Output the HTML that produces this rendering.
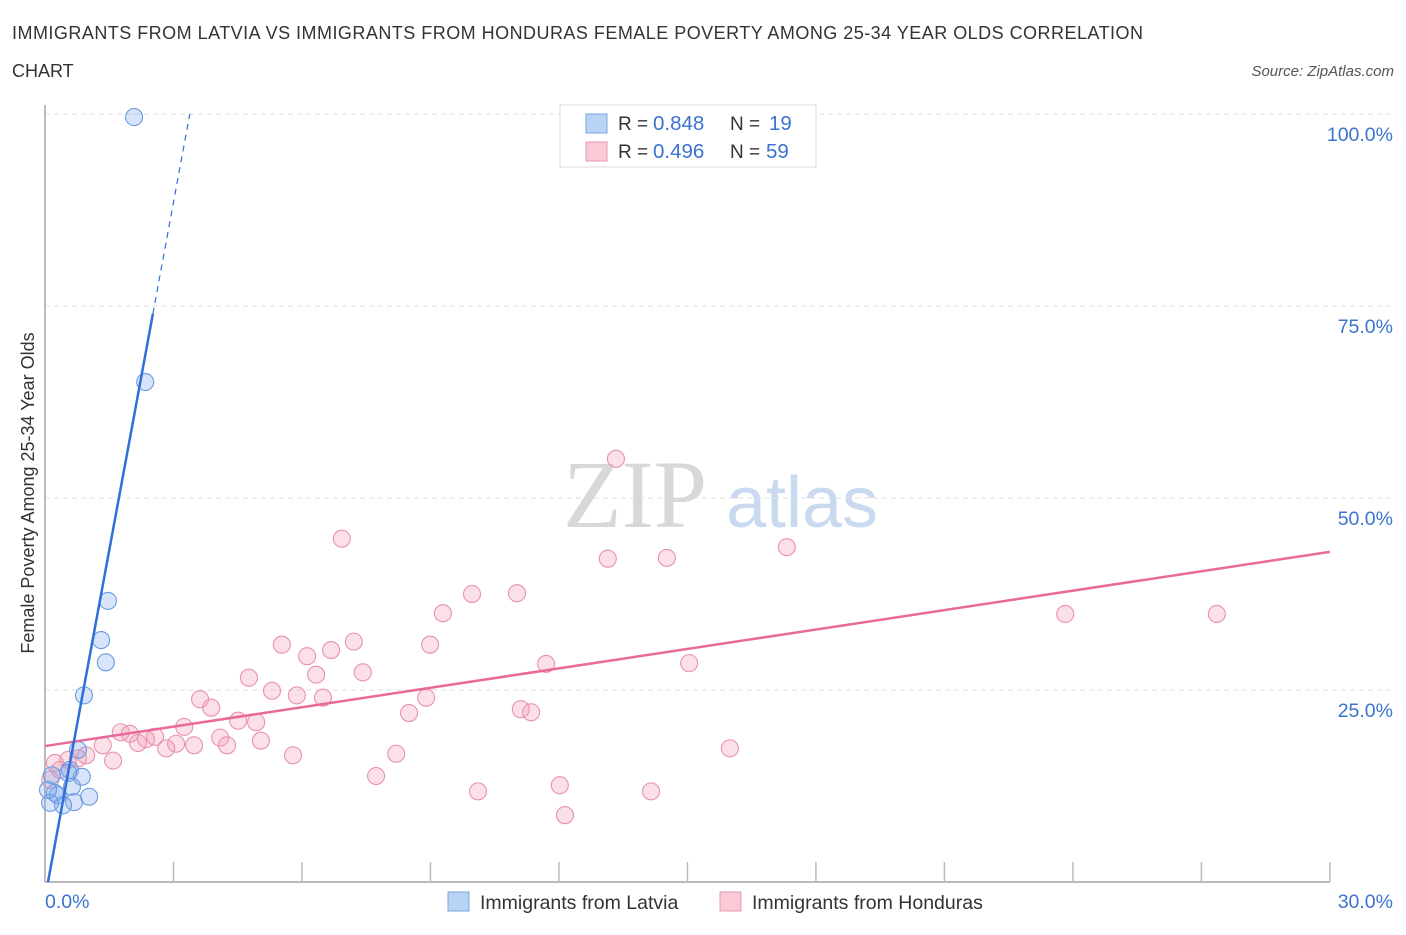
<!DOCTYPE html>
<html><head><meta charset="utf-8"><style>
body{margin:0;background:#fff;font-family:"Liberation Sans",sans-serif}
</style></head><body>
<svg width="1406" height="930" id="chart" font-family="Liberation Sans, sans-serif">
<text x="12" y="39" font-size="18" fill="#333" textLength="1131">IMMIGRANTS FROM LATVIA VS IMMIGRANTS FROM HONDURAS FEMALE POVERTY AMONG 25-34 YEAR OLDS CORRELATION</text>
<text x="12" y="77" font-size="18" fill="#333">CHART</text>
<text x="1394" y="76" font-size="15" fill="#555" font-style="italic" text-anchor="end">Source: ZipAtlas.com</text>
<g>
<text x="635" y="527" font-size="96" fill="#d8d8d8" style="font-family:'Liberation Serif',serif" text-anchor="middle">ZIP</text>
<text x="802" y="527" font-size="72" fill="#c9daf0" text-anchor="middle">atlas</text>
</g>
<g id="grid"></g>
<g id="axes"></g>
<g id="pts"></g>
<g id="trend"></g>
<g>
<rect x="560" y="105" width="256" height="62" fill="#fff" stroke="#ddd"/>
<rect x="586" y="114" width="21" height="19" fill="#b9d3f5" stroke="#7aa6e0"/>
<rect x="586" y="142" width="21" height="19" fill="#f9c9d6" stroke="#e897b0"/>
<text x="618" y="130" font-size="19" fill="#333">R = </text><text x="653" y="130" font-size="20.5" fill="#3a73d0">0.848</text>
<text x="730" y="130" font-size="19" fill="#333">N = </text><text x="769" y="130" font-size="20.5" fill="#3a73d0">19</text>
<text x="618" y="158" font-size="19" fill="#333">R = </text><text x="653" y="158" font-size="20.5" fill="#3a73d0">0.496</text>
<text x="730" y="158" font-size="19" fill="#333">N = </text><text x="766" y="158" font-size="20.5" fill="#3a73d0">59</text>
</g>
<g>
<rect x="448" y="892" width="21" height="19" fill="#b9d3f5" stroke="#7aa6e0"/>
<text x="480" y="909" font-size="19.5" fill="#333">Immigrants from Latvia</text>
<rect x="720" y="892" width="21" height="19" fill="#f9c9d6" stroke="#e897b0"/>
<text x="752" y="909" font-size="19.5" fill="#333">Immigrants from Honduras</text>
</g>
<text x="34" y="493" font-size="18" fill="#333" text-anchor="middle" transform="rotate(-90 34 493)">Female Poverty Among 25-34 Year Olds</text>
</svg>
<script>
const latviaX=[2.08,2.34,1.47,1.31,1.42,0.91,0.77,0.58,0.86,0.63,0.23,0.30,1.03,0.68,0.42,0.12,0.07,0.54,0.16];
const latviaY=[99.6,65.1,36.6,31.5,28.6,24.3,17.2,14.6,13.7,12.4,11.6,11.3,11.1,10.4,10.0,10.3,12.0,14.2,13.9];
const hondurasX=[13.33,6.93,13.14,14.52,17.32,9.97,11.02,9.29,23.82,27.36,5.53,7.21,8.99,6.12,6.68,7.42,6.33,4.76,11.70,15.04,5.30,5.88,6.49,8.90,3.62,3.88,11.11,11.35,8.50,4.51,4.93,3.25,1.77,1.98,2.36,2.57,3.06,3.48,4.09,4.25,2.83,2.17,5.04,1.35,0.96,0.77,1.59,5.79,8.20,15.99,7.73,12.02,10.11,14.15,12.14,0.23,0.54,0.35,0.12];
const hondurasY=[55.1,44.7,42.1,42.2,43.6,37.5,37.6,35.0,34.9,34.9,30.9,31.3,30.9,29.4,30.2,27.3,27.0,26.6,28.4,28.5,24.9,24.3,24.0,24.0,23.8,22.7,22.5,22.1,22.0,21.0,20.8,20.2,19.5,19.3,18.6,18.9,18.0,17.8,18.8,17.8,17.4,18.1,18.4,17.8,16.5,16.1,15.8,16.5,16.7,17.4,13.8,12.6,11.8,11.8,8.7,15.5,15.9,14.6,13.3];
const yTicks=[25,50,75,100];
const yTickLabels=["25.0%","50.0%","75.0%","100.0%"];
const xTicks=[0,3,6,9,12,15,18,21,24,27,30];
const xTickLabels=["0.0%","30.0%"];
const latviaTrend=[-2.1,30.2];
const hondurasTrend=[17.7,0.843];

const NS="http://www.w3.org/2000/svg";
const sx=v=>45+v*42.83, sy=v=>882-v*7.68;
function mk(p,t,a){const e=document.createElementNS(NS,t);for(const k in a)e.setAttribute(k,a[k]);document.getElementById(p).appendChild(e);return e;}
yTicks.forEach((t,i)=>{
 const g=mk('grid','line',{x1:45,x2:1395,y1:sy(t),y2:sy(t),stroke:'#ddd','stroke-dasharray':'5,4'});
 
 
 const l=mk('grid','text',{x:1393,y:sy(t)+27,'font-size':19.5,fill:'#3a73d0','text-anchor':'end'});
 l.textContent=yTickLabels[i];
 
 
});
const ax=mk('axes','line',{x1:45,x2:1330,y1:882,y2:882,stroke:'#bbb','stroke-width':2});


const ay=mk('axes','line',{x1:45,x2:45,y1:105,y2:882,stroke:'#bbb','stroke-width':2});


xTicks.forEach((t,i)=>{if(i==0)return;
 const tk=mk('axes','line',{x1:sx(t),x2:sx(t),y1:862,y2:882,stroke:'#bbb','stroke-width':1.5});
 
 
});
[[0,'start'],[30,'end']].forEach((d,i)=>{
 const l=mk('axes','text',{x:i?1393:45,y:908,'font-size':19.5,fill:'#3a73d0','text-anchor':d[1]});
 l.textContent=xTickLabels[i];
 
 
});
hondurasX.forEach((x,i)=>{
 const c=mk('pts','circle',{cx:sx(x),cy:sy(hondurasY[i]),r:8.5,fill:'rgba(244,160,185,0.32)',stroke:'#e892ad','stroke-width':1.1});
 
 
});
latviaX.forEach((x,i)=>{
 const c=mk('pts','circle',{cx:sx(x),cy:sy(latviaY[i]),r:8.5,fill:'rgba(130,170,235,0.32)',stroke:'#6a9be0','stroke-width':1.1});
 
 
});
const ht=mk('trend','line',{x1:sx(0),y1:sy(hondurasTrend[0]),x2:sx(30),y2:sy(hondurasTrend[0]+30*hondurasTrend[1]),stroke:'#e8699a','stroke-width':2.5});


const x0=-latviaTrend[0]/latviaTrend[1], x1=(74-latviaTrend[0])/latviaTrend[1], x2=(100-latviaTrend[0])/latviaTrend[1];
const lt=mk('trend','line',{x1:sx(x0),y1:sy(0),x2:sx(x1),y2:sy(74),stroke:'#2f6fd8','stroke-width':2.5});


const ld=mk('trend','line',{x1:sx(x1),y1:sy(74),x2:sx(x2),y2:sy(100),stroke:'#2f6fd8','stroke-width':1.2,'stroke-dasharray':'6,5'});


</script>
</body></html>
